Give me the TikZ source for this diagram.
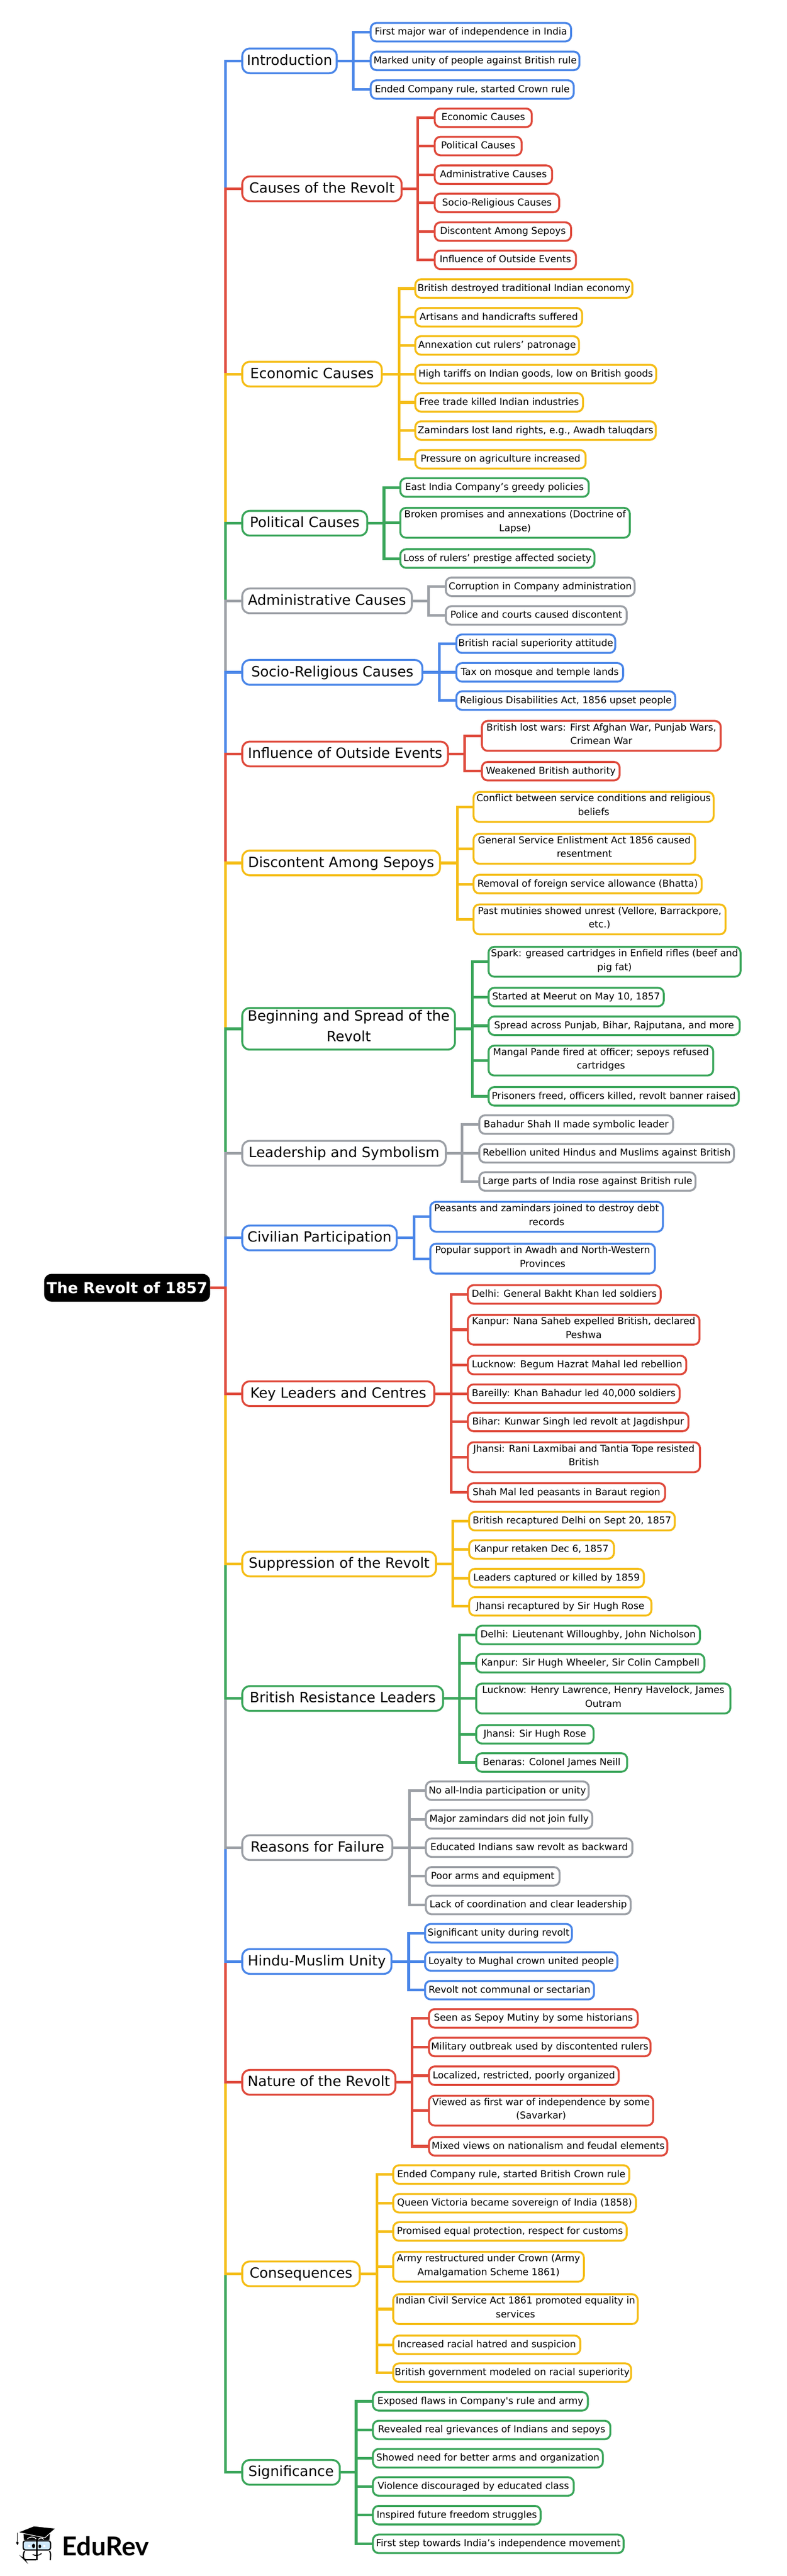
\documentclass[tikz,border=0pt]{standalone}
\usepackage{fontspec}
\setmainfont{DejaVu Sans}
\newfontfamily\logofont{Lato}
\definecolor{mapblue}{HTML}{4A86E8}
\definecolor{mapred}{HTML}{DF4A3C}
\definecolor{mapyellow}{HTML}{F5BD16}
\definecolor{mapgreen}{HTML}{3BA65B}
\definecolor{mapgrey}{HTML}{9CA0A6}
\definecolor{logoglass}{HTML}{CFE8FA}
\tikzset{
    rootnode/.style={rectangle, rounded corners=0.17cm, fill=black, text=white, outer sep=0pt, inner sep=0pt,
        minimum width=3.76cm, minimum height=0.63cm, font=\fontsize{9.75pt}{13pt}\selectfont\bfseries},
    topicnode/.style={rectangle, rounded corners=0.17cm, draw, line width=1.25pt, anchor=west, outer sep=0pt,
        inner xsep=0pt, inner ysep=0.045cm, align=center, font=\fontsize{9.1pt}{13.37pt}\selectfont,
        execute at begin node=\strut, execute at end node=\strut},
    leafnode/.style={rectangle, rounded corners=0.13cm, draw, line width=1.25pt, anchor=west, outer sep=0pt,
        inner xsep=0pt, inner ysep=0.055cm, align=center, font=\fontsize{6.15pt}{8.82pt}\selectfont,
        execute at begin node=\strut, execute at end node=\strut},
    maplink/.style={line width=1.7pt, line join=miter}
}
\begin{document}
\begin{tikzpicture}[y=-1cm]
    \useasboundingbox (0,0) rectangle (17.83,58.39);

    \node[rootnode] (root) at (2.88,29.19) {The Revolt of 1857};
    \coordinate (trunk) at (5.11,29.19);

    % Branches: the upper ones downwards, then the lower ones upwards, so nearer links lie on top
    \foreach \col/\tx/\ty/\tw/\bx/\lx/\topic/\leaves [count=\i] in {
        mapblue/5.49/1.38/2.14/8.01/8.40/{Introduction}/{
            4.54/0.73/{First major war of independence in India},
            4.73/1.38/{Marked unity of people against British rule},
            4.60/2.03/{Ended Company rule, started Crown rule}},
        mapred/5.49/4.28/3.61/9.47/9.85/{Causes of the Revolt}/{
            2.20/2.67/{Economic Causes},
            1.97/3.31/{Political Causes},
            2.66/3.96/{Administrative Causes},
            2.82/4.60/{Socio-Religious Causes},
            3.09/5.25/{Discontent Among Sepoys},
            3.20/5.89/{Influence of Outside Events}},
        mapyellow/5.49/8.48/3.16/9.04/9.41/{Economic Causes}/{
            4.92/6.54/{British destroyed traditional Indian economy},
            3.78/7.19/{Artisans and handicrafts suffered},
            3.71/7.83/{Annexation cut rulers’ patronage},
            5.46/8.48/{High tariffs on Indian goods, low on British goods},
            3.80/9.12/{Free trade killed Indian industries},
            5.45/9.76/{Zamindars lost land rights, e.g., Awadh taluqdars},
            3.86/10.41/{Pressure on agriculture increased}},
        mapgreen/5.49/11.86/2.83/8.70/9.07/{Political Causes}/{
            4.27/11.05/{East India Company’s greedy policies},
            5.20/11.85/{Broken promises and annexations (Doctrine of\\Lapse)},
            4.40/12.66/{Loss of rulers’ prestige affected society}},
        mapgrey/5.49/13.62/3.84/9.71/10.10/{Administrative Causes}/{
            4.28/13.30/{Corruption in Company administration},
            4.10/13.95/{Police and courts caused discontent}},
        mapblue/5.49/15.24/4.08/9.96/10.34/{Socio-Religious Causes}/{
            3.60/14.59/{British racial superiority attitude},
            3.78/15.24/{Tax on mosque and temple lands},
            4.96/15.88/{Religious Disabilities Act, 1856 upset people}},
        mapred/5.49/17.09/4.66/10.53/10.92/{Influence of Outside Events}/{
            5.41/16.68/{British lost wars: First Afghan War, Punjab Wars,\\Crimean War},
            3.12/17.48/{Weakened British authority}},
        mapyellow/5.49/19.56/4.48/10.36/10.73/{Discontent Among Sepoys}/{
            5.44/18.29/{Conflict between service conditions and religious\\beliefs},
            5.02/19.24/{General Service Enlistment Act 1856 caused\\resentment},
            5.17/20.04/{Removal of foreign service allowance (Bhatta)},
            5.71/20.84/{Past mutinies showed unrest (Vellore, Barrackpore,\\etc.)}},
        mapgreen/5.49/23.32/4.82/10.70/11.07/{Beginning and Spread of the\\Revolt}/{
            5.71/21.80/{Spark: greased cartridges in Enfield rifles (beef and\\pig fat)},
            3.97/22.60/{Started at Meerut on May 10, 1857},
            5.69/23.25/{Spread across Punjab, Bihar, Rajputana, and more},
            5.09/24.04/{Mangal Pande fired at officer; sepoys refused\\cartridges},
            5.67/24.85/{Prisoners freed, officers killed, revolt banner raised}},
        mapgrey/5.49/26.14/4.61/10.47/10.86/{Leadership and Symbolism}/{
            4.39/25.49/{Bahadur Shah II made symbolic leader},
            5.77/26.14/{Rebellion united Hindus and Muslims against British},
            4.90/26.78/{Large parts of India rose against British rule}},
        mapblue/5.49/28.06/3.50/9.38/9.75/{Civilian Participation}/{
            5.27/27.58/{Peasants and zamindars joined to destroy debt\\records},
            5.09/28.53/{Popular support in Awadh and North-Western\\Provinces}},
        mapgreen/5.49/56.04/2.21/8.07/8.45/{Significance}/{
            4.87/54.43/{Exposed flaws in Company\textquotesingle s rule and army},
            5.38/55.08/{Revealed real grievances of Indians and sepoys},
            5.21/55.72/{Showed need for better arms and organization},
            4.55/56.36/{Violence discouraged by educated class},
            3.80/57.01/{Inspired future freedom struggles},
            5.68/57.66/{First step towards India’s independence movement}},
        mapyellow/5.49/51.54/2.66/8.54/8.91/{Consequences}/{
            5.35/49.29/{Ended Company rule, started British Crown rule},
            5.50/49.94/{Queen Victoria became sovereign of India (1858)},
            5.29/50.58/{Promised equal protection, respect for customs},
            4.32/51.38/{Army restructured under Crown (Army\\Amalgamation Scheme 1861)},
            5.54/52.34/{Indian Civil Service Act 1861 promoted equality in\\services},
            4.24/53.15/{Increased racial hatred and suspicion},
            5.39/53.78/{British government modeled on racial superiority}},
        mapred/5.49/47.20/3.47/9.34/9.72/{Nature of the Revolt}/{
            4.73/45.75/{Seen as Sepoy Mutiny by some historians},
            5.02/46.40/{Military outbreak used by discontented rulers},
            4.30/47.05/{Localized, restricted, poorly organized},
            5.08/47.84/{Viewed as first war of independence by some\\(Savarkar)},
            5.40/48.65/{Mixed views on nationalism and feudal elements}},
        mapblue/5.49/44.46/3.38/9.26/9.63/{Hindu-Muslim Unity}/{
            3.33/43.82/{Significant unity during revolt},
            4.36/44.46/{Loyalty to Mughal crown united people},
            3.83/45.11/{Revolt not communal or sectarian}},
        mapgrey/5.49/41.88/3.40/9.28/9.65/{Reasons for Failure}/{
            3.69/40.59/{No all-India participation or unity},
            3.77/41.24/{Major zamindars did not join fully},
            4.68/41.88/{Educated Indians saw revolt as backward},
            3.03/42.53/{Poor arms and equipment},
            4.64/43.18/{Lack of coordination and clear leadership}},
        mapgreen/5.49/38.50/4.55/10.41/10.79/{British Resistance Leaders}/{
            5.07/37.06/{Delhi: Lieutenant Willoughby, John Nicholson},
            5.17/37.70/{Kanpur: Sir Hugh Wheeler, Sir Colin Campbell},
            5.76/38.50/{Lucknow: Henry Lawrence, Henry Havelock, James\\Outram},
            2.66/39.31/{Jhansi: Sir Hugh Rose},
            3.42/39.95/{Benaras: Colonel James Neill}},
        mapyellow/5.49/35.45/4.39/10.26/10.63/{Suppression of the Revolt}/{
            4.66/34.48/{British recaptured Delhi on Sept 20, 1857},
            3.28/35.12/{Kanpur retaken Dec 6, 1857},
            3.96/35.77/{Leaders captured or killed by 1859},
            4.13/36.41/{Jhansi recaptured by Sir Hugh Rose}},
        mapred/5.49/31.59/4.35/10.22/10.60/{Key Leaders and Centres}/{
            4.37/29.34/{Delhi: General Bakht Khan led soldiers},
            5.25/30.14/{Kanpur: Nana Saheb expelled British, declared\\Peshwa},
            4.95/30.94/{Lucknow: Begum Hazrat Mahal led rebellion},
            4.80/31.59/{Bareilly: Khan Bahadur led 40,000 soldiers},
            5.00/32.23/{Bihar: Kunwar Singh led revolt at Jagdishpur},
            5.26/33.03/{Jhansi: Rani Laxmibai and Tantia Tope resisted\\British},
            4.47/33.83/{Shah Mal led peasants in Baraut region}}%
    } {
        \node[topicnode, draw=\col, minimum width=\tw cm] (topic\i) at (\tx,\ty) {\topic};
        \coordinate (bus\i) at (\bx,\ty);
        \draw[maplink, draw=\col] (root.east) -- (trunk) |- (topic\i.west);
        \foreach \lw/\ly/\leaf [count=\j] in \leaves {
            \node[leafnode, draw=\col, minimum width=\lw cm] (leaf\i-\j) at (\lx,\ly) {\leaf};
            \draw[maplink, draw=\col] (topic\i.east) -- (bus\i) |- (leaf\i-\j.west);
        }
    }

    % EduRev logo
    \node[anchor=base west, inner sep=0pt, font=\fontsize{16.8pt}{20pt}\logofont\bfseries] (logotext) at (1.40,57.93) {EduRev};
    \fill (0.533,57.43) -- (0.543,57.57) -- (1.117,57.57) -- (1.133,57.44) -- cycle;
    \draw[white, line width=0.5pt] (0.62,57.55) .. controls (0.68,57.49) and (0.78,57.49) .. (0.82,57.55);
    \draw[white, line width=0.5pt] (0.87,57.56) .. controls (0.90,57.52) and (0.96,57.52) .. (0.99,57.56);
    \filldraw[draw=white, line width=0.4pt] (0.407,57.40) -- (0.767,57.257) -- (1.26,57.31) -- (1.017,57.523) -- cycle;
    \draw[line width=0.5pt] (0.39,57.407) -- (0.39,57.60);
    \fill (0.39,57.60) -- (0.365,57.635) -- (0.395,57.69) -- (0.425,57.635) -- cycle;
    \draw[fill=logoglass, line width=0.8pt, rounded corners=0.05cm] (0.525,57.59) rectangle (1.145,57.80);
    \draw[line width=0.8pt, rounded corners=0.04cm] (0.56,57.82) -- (0.53,57.87) -- (0.53,57.99) -- (0.56,58.02) -- (0.82,58.02);
    \draw[line width=0.8pt, rounded corners=0.04cm] (1.12,57.82) -- (1.15,57.87) -- (1.14,58.03);
    \draw[line width=1pt] (0.833,57.57) -- (0.833,58.03);
    \fill (0.76,57.707) ellipse (0.035 and 0.05);
    \fill (0.903,57.717) ellipse (0.03 and 0.04);
    \fill[white] (0.64,57.69) rectangle (0.69,57.73);
    \fill[white] (0.98,57.69) rectangle (1.03,57.73);
    \draw[line width=0.6pt] (0.74,57.90) .. controls (0.80,57.94) and (0.88,57.93) .. (0.943,57.877);
\end{tikzpicture}
\end{document}
